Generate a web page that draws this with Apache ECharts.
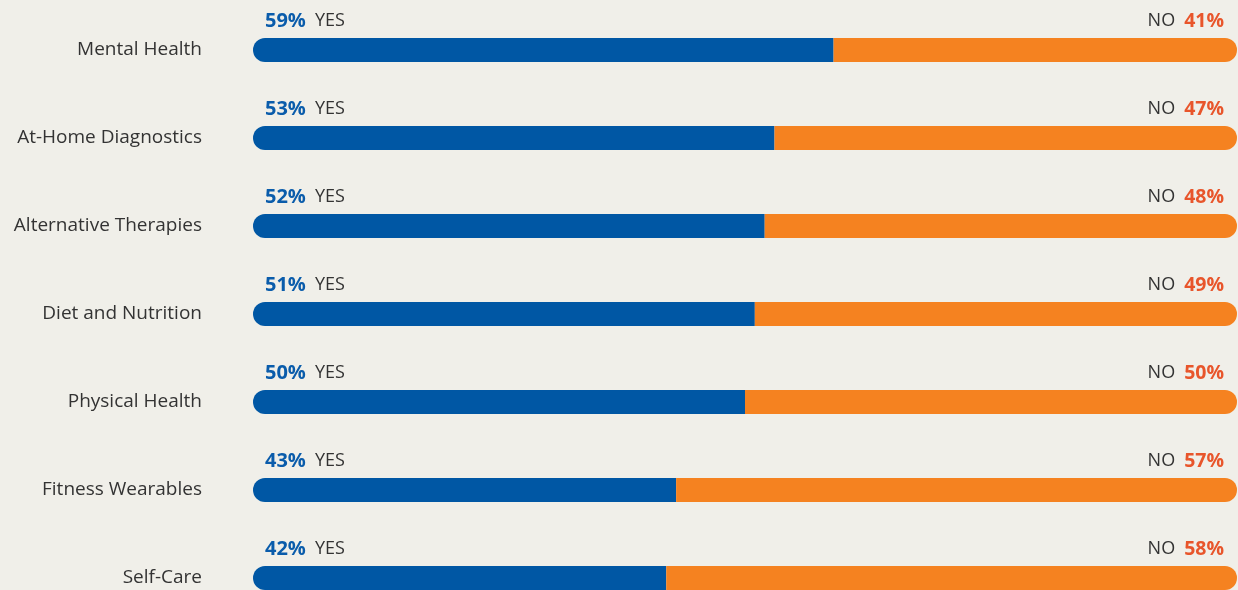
<!DOCTYPE html>
<html><head><meta charset="utf-8">
<script src="https://cdn.jsdelivr.net/npm/echarts@6/dist/echarts.min.js"></script>
<style>html,body{margin:0;padding:0;background:#F0EFE9;}#c{width:1238px;height:590px;}</style>
</head><body><div id="c"></div>
<script>
const categories = ['Mental Health','At-Home Diagnostics','Alternative Therapies','Diet and Nutrition','Physical Health','Fitness Wearables','Self-Care'];
const yesValues = [59,53,52,51,50,43,42];
const noValues = [41,47,48,49,50,57,58];

const chart = echarts.init(document.getElementById('c'));
const FONT = '"Open Sans", sans-serif';
chart.setOption({
  backgroundColor: '#F0EFE9',
  animation: false,
  grid: { left: 253, right: 1, top: 50, bottom: 12, containLabel: false },
  xAxis: { type: 'value', min: 0, max: 100, show: false },
  yAxis: {
    type: 'category', data: categories, inverse: true, boundaryGap: false,
    axisLine: { show: false }, axisTick: { show: false }, splitLine: { show: false },
    axisLabel: { margin: 51, color: '#333333', fontSize: 19, fontFamily: FONT }
  },
  series: [
    {
      name: 'YES', type: 'bar', stack: 's', barWidth: 24, data: yesValues,
      itemStyle: { color: '#0057A4', borderRadius: [12, 0, 0, 12] },
      label: {
        show: true, position: [12, -17], align: 'left', verticalAlign: 'middle',
        formatter: p => '{p|' + p.value + '%}{t|YES}',
        rich: {
          p: { fontFamily: FONT, fontWeight: 'bold', fontSize: 20, color: '#0A5CAB' },
          t: { fontFamily: FONT, fontSize: 18, color: '#333333', padding: [0, 0, 0, 9] }
        }
      }
    },
    {
      name: 'NO', type: 'bar', stack: 's', barWidth: 24, data: noValues,
      itemStyle: { color: '#F58220', borderRadius: [0, 12, 12, 0] },
      label: {
        show: true, position: ['100%', -17], offset: [-13, 0], align: 'right', verticalAlign: 'middle',
        formatter: p => '{t|NO}{p|' + p.value + '%}',
        rich: {
          p: { fontFamily: FONT, fontWeight: 'bold', fontSize: 19.5, color: '#E8552B' },
          t: { fontFamily: FONT, fontSize: 18, color: '#333333', padding: [0, 9, 0, 0] }
        }
      }
    }
  ]
});
</script></body></html>
